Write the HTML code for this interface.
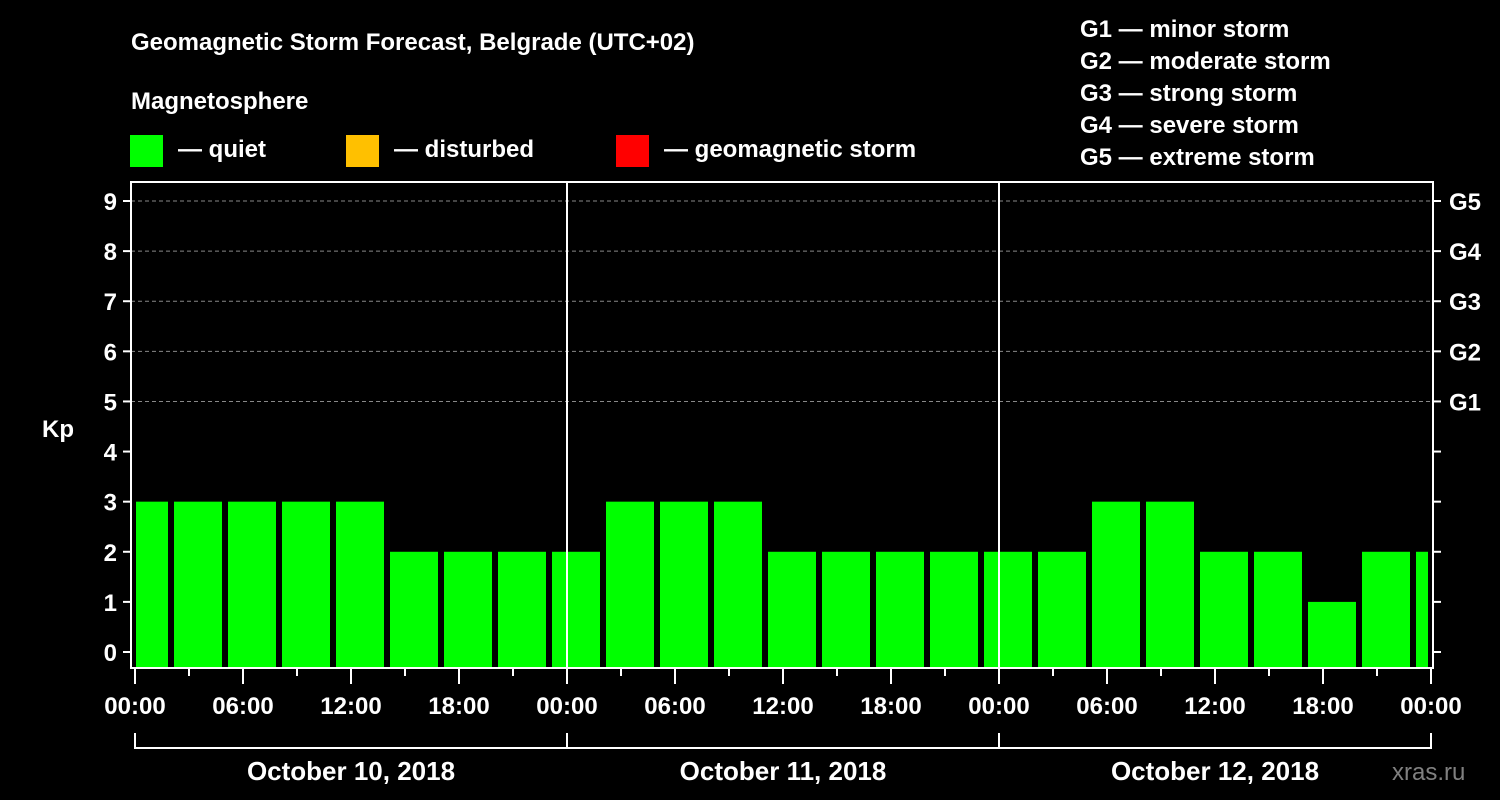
<!DOCTYPE html>
<html><head><meta charset="utf-8"><style>
html,body{margin:0;padding:0;background:#000;}
svg{display:block;font-family:"Liberation Sans",Arial,sans-serif;font-weight:bold;}
</style></head><body>
<svg id="chart" width="1500" height="800" viewBox="0 0 1500 800">
<rect x="0" y="0" width="1500" height="800" fill="#000"/>
<text x="131" y="50" font-size="24" fill="#fff">Geomagnetic Storm Forecast, Belgrade (UTC+02)</text>
<text x="131" y="109" font-size="24" fill="#fff">Magnetosphere</text>
<g><rect x="130" y="135" width="33" height="32" fill="#00ff00"/><text x="178" y="157" font-size="24" fill="#fff">— quiet</text></g>
<g><rect x="346" y="135" width="33" height="32" fill="#ffc000"/><text x="394" y="157" font-size="24" fill="#fff">— disturbed</text></g>
<g><rect x="616" y="135" width="33" height="32" fill="#ff0000"/><text x="664" y="157" font-size="24" fill="#fff">— geomagnetic storm</text></g>
<g font-size="24" fill="#fff">
<text x="1080" y="37">G1 — minor storm</text>
<text x="1080" y="69">G2 — moderate storm</text>
<text x="1080" y="101">G3 — strong storm</text>
<text x="1080" y="133">G4 — severe storm</text>
<text x="1080" y="165">G5 — extreme storm</text>
</g>
<text x="42" y="437" font-size="24" fill="#fff">Kp</text>
<g id="grid"></g>
<g id="bars"></g>
<g id="axes"></g>
<text x="1392" y="780" font-size="24" fill="#808080" font-weight="normal">xras.ru</text>
</svg>
<script>
const prevValue = [3];
const kpValues = [3,3,3,3,2,2,2,2, 3,3,3,2,2,2,2,2, 2,3,3,2,2,1,2,2];
const yTicks = [0,1,2,3,4,5,6,7,8,9];
const gLabels = ["G1","G2","G3","G4","G5"];
const hourLabels = ["00:00","06:00","12:00","18:00","00:00","06:00","12:00","18:00","00:00","06:00","12:00","18:00","00:00"];
const dayLabels = ["October 10, 2018","October 11, 2018","October 12, 2018"];
const tzShift = 2;

const NS = "http://www.w3.org/2000/svg";
const X0 = 135, X1 = 1431, HOURS = 72;
const PL = 131, PR = 1433, PT = 182, PB = 668;
const xs = h => X0 + (X1 - X0) * h / HOURS;
const ys = v => 652 - v * (652 - 201) / 9;
function mk(tag, attrs, parent){const e=document.createElementNS(NS,tag);for(const k in attrs)e.setAttribute(k,attrs[k]);parent.appendChild(e);return e;}
const grid=document.getElementById('grid'), bars=document.getElementById('bars'), axes=document.getElementById('axes');

// grid lines
for(const v of [5,6,7,8,9]){
  const l=mk('line',{x1:PL,x2:PR,y1:ys(v),y2:ys(v),stroke:'#888','stroke-width':1,'stroke-dasharray':'4,3'},grid);
  
  
}
// bars
const allVals = prevValue.concat(kpValues);
const cp=mk('clipPath',{id:'plotclip'},bars);
mk('rect',{x:136,y:PT,width:1292,height:PB-PT},cp);
const bg=mk('g',{'clip-path':'url(#plotclip)'},bars);
allVals.forEach((v,i)=>{
  const c = xs((i-1)*3 + 1.5 + tzShift);
  const color = v>=5?'#ff0000':(v>=4?'#ffc000':'#00ff00');
  const r=mk('rect',{x:c-24,y:ys(v),width:48,height:PB-ys(v),fill:color},bg);
  
  
});
// day separators
for(const d of [1,2]){
  const l=mk('line',{x1:xs(d*24),x2:xs(d*24),y1:PT,y2:PB,stroke:'#fff','stroke-width':2},axes);
  
  
}
// frame
const fr=mk('rect',{x:PL,y:PT,width:PR-PL,height:PB-PT,fill:'none',stroke:'#fff','stroke-width':2},axes);


// y ticks
yTicks.forEach(v=>{
  mk('line',{x1:PL-8,x2:PL,y1:ys(v),y2:ys(v),stroke:'#fff','stroke-width':2},axes);
  mk('line',{x1:PR,x2:PR+8,y1:ys(v),y2:ys(v),stroke:'#fff','stroke-width':2},axes);
  const t=mk('text',{x:117,y:ys(v)+9,'font-size':24,fill:'#fff','text-anchor':'end'},axes);
  t.textContent=v;
  
  
});
gLabels.forEach((g,i)=>{
  const t=mk('text',{x:1449,y:ys(5+i)+9,'font-size':24,fill:'#fff'},axes);
  t.textContent=g;
  
  
});
// x ticks
for(let h=0;h<=HOURS;h+=3){
  const major = h%6===0;
  mk('line',{x1:xs(h),x2:xs(h),y1:PB,y2:PB+(major?16:8),stroke:'#fff','stroke-width':2},axes);
}
hourLabels.forEach((s,i)=>{
  const t=mk('text',{x:xs(i*6),y:714,'font-size':24,fill:'#fff','text-anchor':'middle'},axes);
  t.textContent=s;
  
  
});
// day bracket
mk('line',{x1:X0,x2:X1,y1:748,y2:748,stroke:'#fff','stroke-width':2},axes);
for(let d=0;d<=3;d++) mk('line',{x1:xs(d*24),x2:xs(d*24),y1:733,y2:749,stroke:'#fff','stroke-width':2},axes);
dayLabels.forEach((s,i)=>{
  const t=mk('text',{x:xs(i*24+12),y:780,'font-size':26,fill:'#fff','text-anchor':'middle'},axes);
  t.textContent=s;
  
  
});
</script>
</body></html>
